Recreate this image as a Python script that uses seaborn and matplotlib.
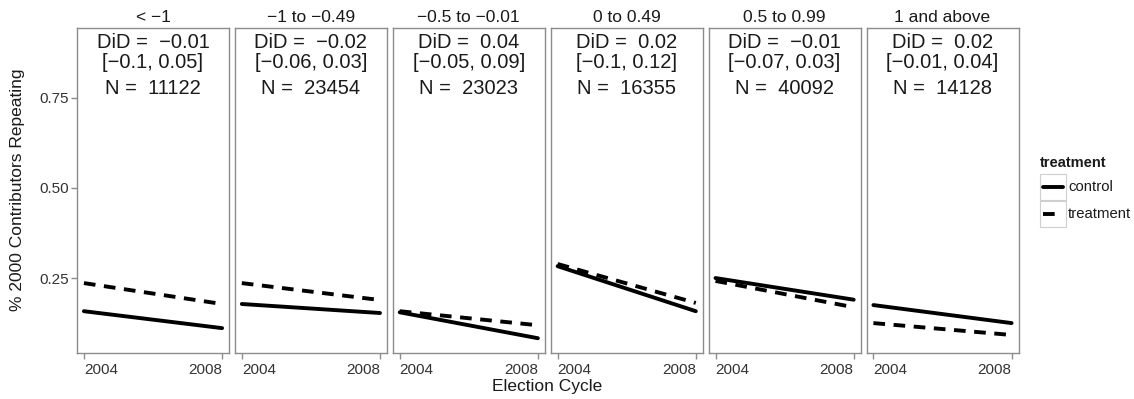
import numpy as np
import pandas as pd
import matplotlib
matplotlib.use("Agg")
import matplotlib.pyplot as plt
from matplotlib.patches import Rectangle
from matplotlib.lines import Line2D
import seaborn as sns

sns.set_style("white")
plt.rcParams["font.family"] = ["Liberation Sans", "DejaVu Sans"]

# Facets (ideology score bins) and their annotations
facets = ["< \u22121", "\u22121 to \u22120.49", "\u22120.5 to \u22120.01",
          "0 to 0.49", "0.5 to 0.99", "1 and above"]
did = ["\u22120.01", "\u22120.02", "0.04", "0.02", "\u22120.01", "0.02"]
ci = ["[\u22120.1, 0.05]", "[\u22120.06, 0.03]", "[\u22120.05, 0.09]",
      "[\u22120.1, 0.12]", "[\u22120.07, 0.03]", "[\u22120.01, 0.04]"]
n_obs = ["11122", "23454", "23023", "16355", "40092", "14128"]

years = [2004, 2008]
# Share of 2000 contributors repeating, per facet: (2004, 2008)
control = [(0.158, 0.111), (0.178, 0.153), (0.155, 0.083),
           (0.283, 0.158), (0.250, 0.190), (0.175, 0.125)]
treatment = [(0.236, 0.178), (0.236, 0.189), (0.158, 0.119),
             (0.289, 0.181), (0.242, 0.169), (0.125, 0.092)]

rows = []
for i, f in enumerate(facets):
    for j, y in enumerate(years):
        rows.append({"facet": f, "year": y, "treatment": "control", "share": control[i][j]})
        rows.append({"facet": f, "year": y, "treatment": "treatment", "share": treatment[i][j]})
df = pd.DataFrame(rows)

W, H = 1134, 399
fig = plt.figure(figsize=(W / 100, H / 100), dpi=100)
left0, pw, step = 77, 152, 157.9
top, bottom = 28, 353
ph = bottom - top
gray = "#8c8c8c"
txt = "#1a1a1a"
tick_txt = "#333333"
lw = 2.8
dash = (3.0, 2.2)

axes = []
for i, f in enumerate(facets):
    x0 = left0 + i * step
    ax = fig.add_axes([x0 / W, 1 - bottom / H, pw / W, ph / H])
    axes.append(ax)
    sub = df[df["facet"] == f]
    sns.lineplot(data=sub, x="year", y="share", style="treatment",
                 style_order=["control", "treatment"],
                 dashes={"control": "", "treatment": dash},
                 color="black", linewidth=lw, legend=False, ax=ax)
    ax.set_xlim(2003.8, 2008.2)
    ax.set_ylim(0.042, 0.944)
    ax.set_xticks(years)
    xl = ax.set_xticklabels([str(y) for y in years], fontsize=11, color=tick_txt)
    xl[0].set_horizontalalignment("left")
    xl[1].set_horizontalalignment("right")
    ax.set_yticks([0.25, 0.50, 0.75])
    if i == 0:
        ax.set_yticklabels(["0.25", "0.50", "0.75"], fontsize=11, color=tick_txt)
        ax.tick_params(axis="y", length=4, width=1, color=gray, left=True, pad=2)
    else:
        ax.set_yticklabels([])
        ax.tick_params(axis="y", length=0)
    ax.tick_params(axis="x", length=4, width=1, color=gray, bottom=True, pad=3)
    ax.set_xlabel("")
    ax.set_ylabel("")
    for s in ax.spines.values():
        s.set_color(gray)
        s.set_linewidth(1.0)
    ax.text(0.5, 1 + 11 / ph, f, transform=ax.transAxes, ha="center",
            va="center", fontsize=12.5, color=txt)
    ax.text(0.5, 1 - 14 / ph, f"DiD =  {did[i]}", transform=ax.transAxes,
            ha="center", va="center", fontsize=14.5, color=txt)
    ax.text(0.5, 1 - 35 / ph, ci[i], transform=ax.transAxes,
            ha="center", va="center", fontsize=14.5, color=txt)
    ax.text(0.5, 1 - 60 / ph, f"N =  {n_obs[i]}", transform=ax.transAxes,
            ha="center", va="center", fontsize=14.5, color=txt)

fig.text(547 / W, 1 - 387 / H, "Election Cycle", ha="center", va="center",
         fontsize=12.5, color=txt)
fig.text(18 / W, 1 - 190 / H, "% 2000 Contributors Repeating", ha="center",
         va="center", rotation=90, fontsize=12.5, color=txt)

# Legend
fig.text(1040 / W, 1 - 163 / H, "treatment", ha="left", va="center",
         fontsize=10.5, fontweight="bold", color=txt)
labels = ["control", "treatment"]
styles = ["-", (0, dash)]
for k, (lab, ls) in enumerate(zip(labels, styles)):
    yc = 187 + k * 27
    fig.patches.append(Rectangle((1040 / W, 1 - (yc + 13) / H), 26 / W, 26 / H,
                                 transform=fig.transFigure, fill=False,
                                 edgecolor="#cfcfcf", linewidth=0.8))
    ln = Line2D([1043 / W, 1063 / W], [1 - yc / H, 1 - yc / H],
                transform=fig.transFigure, color="black", linewidth=lw,
                linestyle=ls)
    fig.lines.append(ln)
    fig.text(1068 / W, 1 - yc / H, lab, ha="left", va="center",
             fontsize=10.7, color=txt)

fig.savefig("out.png", dpi=100)
